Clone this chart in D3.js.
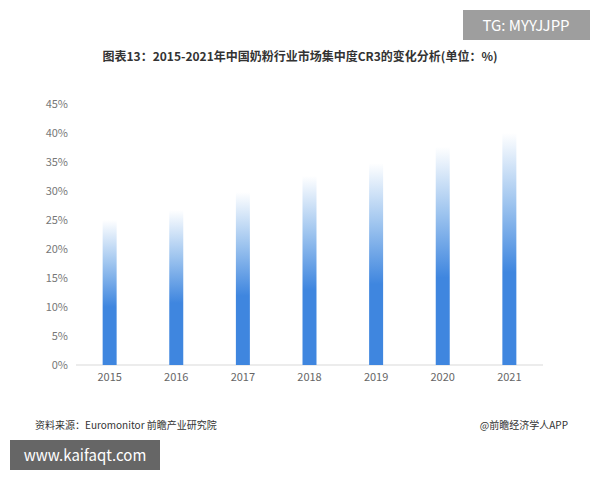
<!DOCTYPE html>
<html><head><meta charset="utf-8">
<script src="https://cdn.jsdelivr.net/npm/d3@7"></script>
<style>body{margin:0;background:#fff;font-family:"Noto Sans CJK SC","Noto Sans",sans-serif}</style>
</head><body><div id="chart"></div>
<script>
// CR3 of China's milk powder industry, 2015-2021
const years = ["2015","2016","2017","2018","2019","2020","2021"];
const cr3 = [25, 26.7, 29.8, 32.6, 34.8, 37.6, 40];
const yTicks = [0,5,10,15,20,25,30,35,40,45];

const width = 600, height = 480,
      margin = ({top: 104, right: 57, bottom: 115, left: 76});

let svg = d3.select("#chart").append("svg")
    .attr("width", width).attr("height", height)
    .style("font-family", '"Noto Sans CJK SC", sans-serif');

let grad = svg.append("defs").append("linearGradient")
    .attr("id", "barGrad").attr("x1", 0).attr("y1", 1).attr("x2", 0).attr("y2", 0);
grad.append("stop").attr("offset", "0%").attr("stop-color", "#3f86df");
grad.append("stop").attr("offset", "40%").attr("stop-color", "#3f86df");
grad.append("stop").attr("offset", "70%").attr("stop-color", "#9fc5ef");
grad.append("stop").attr("offset", "100%").attr("stop-color", "#ffffff");

let x = d3.scaleBand().domain(years)
    .range([margin.left, width - margin.right]).paddingInner(0.79).paddingOuter(0.4);
let y = d3.scaleLinear().domain([0, 45]).range([height - margin.bottom, margin.top]);

// y labels, no axis line
svg.append("g").selectAll("text").data(yTicks).join("text")
    .attr("x", 68).attr("y", d => y(d)).attr("dy", "0.35em")
    .attr("text-anchor", "end").attr("font-size", 11).attr("fill", "#777")
    .text(d => d + "%");

svg.append("line")
    .attr("x1", margin.left).attr("x2", width - margin.right)
    .attr("y1", y(0)).attr("y2", y(0)).attr("stroke", "#d9d9d9");

svg.append("g").selectAll("text").data(years).join("text")
    .attr("x", d => x(d) + x.bandwidth() / 2).attr("y", y(0) + 16)
    .attr("text-anchor", "middle").attr("font-size", 11).attr("fill", "#666")
    .text(d => d);

svg.selectAll(".bar").data(cr3).join("rect")
    .attr("class", "bar")
    .attr("x", (d, i) => x(years[i]))
    .attr("width", x.bandwidth())
    .attr("y", d => y(d))
    .attr("height", d => y(0) - y(d))
    .attr("fill", "url(#barGrad)");

svg.append("text").attr("x", 300).attr("y", 61).attr("text-anchor", "middle")
    .attr("font-size", 12).attr("font-weight", "bold").attr("fill", "#333")
    .text("图表13：2015-2021年中国奶粉行业市场集中度CR3的变化分析(单位：%)");

svg.append("text").attr("x", 35).attr("y", 429).attr("font-size", 10).attr("fill", "#333")
    .text("资料来源：Euromonitor 前瞻产业研究院");
svg.append("text").attr("x", 568).attr("y", 429).attr("text-anchor", "end")
    .attr("font-size", 10).attr("fill", "#333").text("@前瞻经济学人APP");

svg.append("rect").attr("x", 463).attr("y", 10).attr("width", 127).attr("height", 30).attr("fill", "#9e9e9e");
svg.append("text").attr("x", 526).attr("y", 31).attr("text-anchor", "middle")
    .attr("font-size", 15).attr("fill", "#fff").text("TG: MYYJJPP");

svg.append("rect").attr("x", 10).attr("y", 440).attr("width", 150).attr("height", 30).attr("fill", "#666");
svg.append("text").attr("x", 85).attr("y", 461).attr("text-anchor", "middle")
    .attr("font-size", 15).attr("fill", "#fff").text("www.kaifaqt.com");
</script></body></html>
